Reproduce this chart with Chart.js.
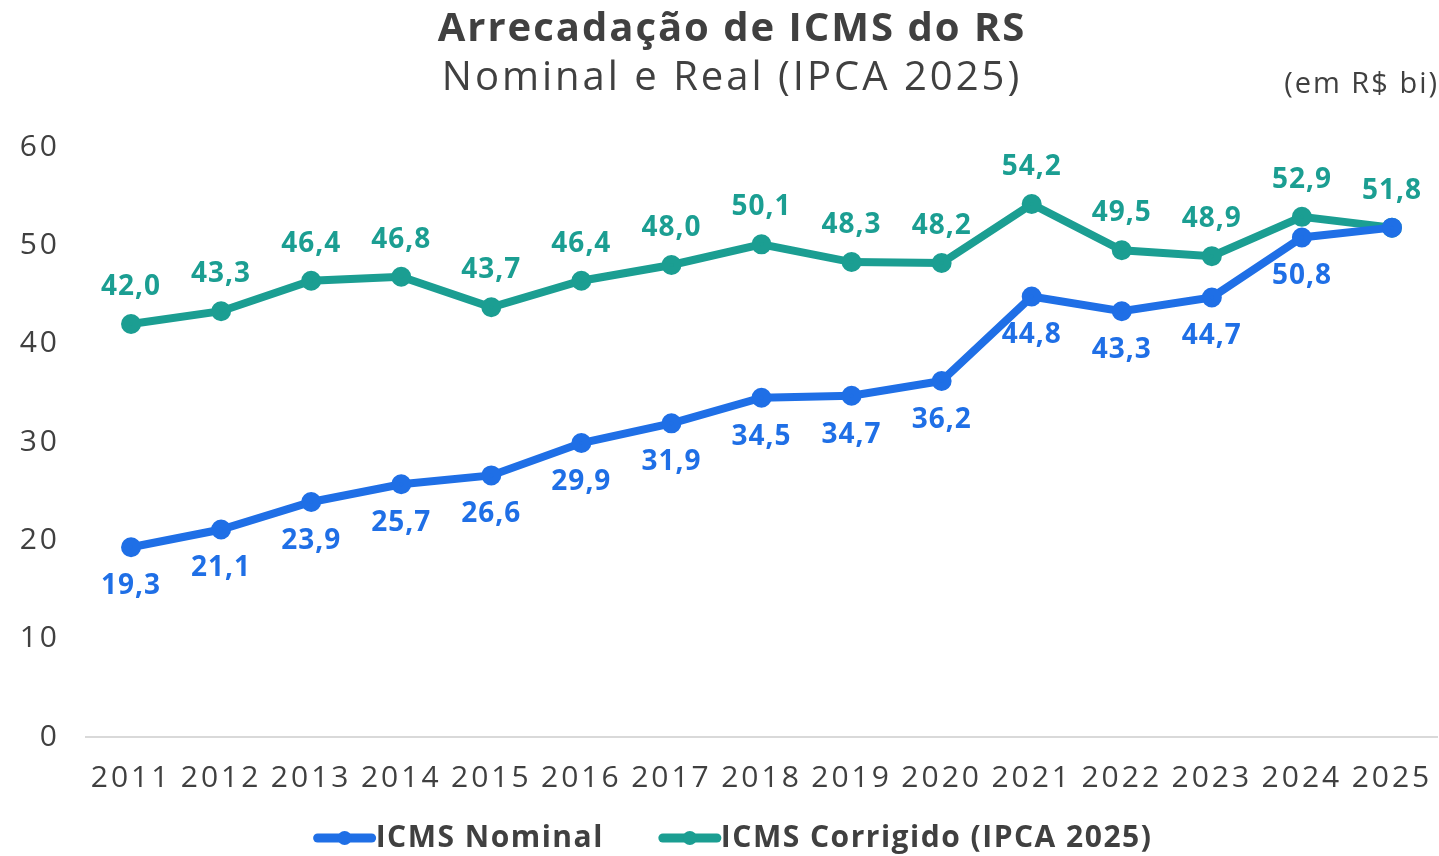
<!DOCTYPE html>
<html>
<head>
<meta charset="utf-8">
<script src="https://cdn.jsdelivr.net/npm/chart.js@4.4.1/dist/chart.umd.min.js"></script>
<style>
  html, body { margin: 0; padding: 0; background: #fff; overflow: hidden; }
  #wrap { width: 1439px; height: 856px; position: relative; }
</style>
</head>
<body>
<div id="wrap"><canvas id="grafico"></canvas></div>
<script>
// dados
const anos = ['2011', '2012', '2013', '2014', '2015', '2016', '2017', '2018', '2019', '2020', '2021', '2022', '2023', '2024', '2025'];
const icmsNominal = [19.3, 21.1, 23.9, 25.7, 26.6, 29.9, 31.9, 34.5, 34.7, 36.2, 44.8, 43.3, 44.7, 50.8, 51.8];
const icmsCorrigido = [42.0, 43.3, 46.4, 46.8, 43.7, 46.4, 48.0, 50.1, 48.3, 48.2, 54.2, 49.5, 48.9, 52.9, 51.8];
const yTicks = [0, 10, 20, 30, 40, 50, 60];

const AZUL = '#1f6fe6';
const VERDE = '#1b9e92';
const CINZA = '#404040';
const FONTE = "'Open Sans', 'DejaVu Sans', sans-serif";

// a fonte original é mais larga, então espaçamos um pouco as letras
const espacamento = {
  id: 'espacamento',
  beforeDraw(chart) { chart.ctx.letterSpacing = '3px'; }
};

// títulos, legenda e rótulos de dados
const textos = {
  id: 'textos',
  afterDatasetsDraw(chart) {
    const ctx = chart.ctx;
    ctx.save();
    ctx.letterSpacing = '1px';
    ctx.textAlign = 'center';
    ctx.textBaseline = 'middle';
    chart.data.datasets.forEach((ds, i) => {
      const meta = chart.getDatasetMeta(i);
      ctx.fillStyle = ds.borderColor;
      ctx.font = "bold 28px " + FONTE;
      meta.data.forEach((pt, j) => {
        if (i === 0 && j === ds.data.length - 1) return; // sobreposto no original
        const txt = ds.data[j].toFixed(1).replace('.', ',');
        const dy = i === 0 ? 39 : -37;
        ctx.fillText(txt, pt.x, pt.y + dy);
      });
    });
    ctx.restore();
  },
  afterDraw(chart) {
    const ctx = chart.ctx;
    ctx.save();
    ctx.fillStyle = CINZA;
    ctx.textBaseline = 'middle';
    ctx.textAlign = 'center';
    ctx.letterSpacing = '2px';
    ctx.font = "bold 40px " + FONTE;
    ctx.fillText('Arrecadação de ICMS do RS', 732, 30);
    ctx.letterSpacing = '3px';
    ctx.font = "40px " + FONTE;
    ctx.fillText('Nominal e Real (IPCA 2025)', 732, 79);
    ctx.textAlign = 'right';
    ctx.letterSpacing = '2px';
    ctx.font = "29px " + FONTE;
    ctx.fillText('(em R$ bi)', 1439, 85);

    // legenda
    ctx.letterSpacing = '1.5px';
    ctx.font = "bold 30px " + FONTE;
    ctx.textAlign = 'left';
    const ds = chart.data.datasets;
    const larg = ds.map(d => ctx.measureText(d.label).width);
    const gap = 55, mk = 62;
    let x = 733 - (mk * 2 + larg[0] + larg[1] + gap) / 2;
    const y = 838;
    ds.forEach((d, i) => {
      ctx.strokeStyle = d.borderColor;
      ctx.fillStyle = d.borderColor;
      ctx.lineWidth = 9;
      ctx.lineCap = 'round';
      ctx.beginPath(); ctx.moveTo(x + 4, y); ctx.lineTo(x + mk - 4, y); ctx.stroke();
      ctx.beginPath(); ctx.arc(x + mk / 2, y, 7, 0, Math.PI * 2); ctx.fill();
      ctx.fillStyle = CINZA;
      ctx.fillText(d.label, x + mk, y);
      x += mk + larg[i] + gap;
    });
    ctx.restore();
  }
};

new Chart(document.getElementById('grafico'), {
  type: 'line',
  data: {
    labels: anos,
    datasets: [
      {
        label: 'ICMS Nominal',
        data: icmsNominal,
        borderColor: AZUL,
        backgroundColor: AZUL,
        borderWidth: 8,
        pointRadius: 6,
        pointHoverRadius: 6,
        tension: 0
      },
      {
        label: 'ICMS Corrigido (IPCA 2025)',
        data: icmsCorrigido,
        borderColor: VERDE,
        backgroundColor: VERDE,
        borderWidth: 8,
        pointRadius: 6,
        pointHoverRadius: 6,
        tension: 0
      }
    ]
  },
  options: {
    responsive: true,
    maintainAspectRatio: false,
    animation: false,
    layout: { autoPadding: false, padding: { top: 147, right: 2, left: 0, bottom: 0 } },
    plugins: {
      title: { display: false },
      tooltip: { enabled: false },
      legend: { display: false }
    },
    scales: {
      x: {
        offset: true,
        grid: { display: false, drawTicks: false },
        border: { display: true, color: '#d9d9d9', width: 2 },
        afterFit(scale) {
          scale.height = 119;
          scale.paddingLeft = 0;
          scale.paddingRight = 0;
        },
        ticks: {
          color: CINZA,
          font: { family: FONTE, size: 30 },
          padding: 23,
          maxRotation: 0,
          autoSkip: false
        }
      },
      y: {
        min: 0,
        max: 60,
        grid: { display: false, drawTicks: false },
        border: { display: false },
        afterFit(scale) { scale.width = 86; },
        afterBuildTicks(scale) { scale.ticks = yTicks.map(v => ({ value: v })); },
        ticks: {
          color: CINZA,
          font: { family: FONTE, size: 30 },
          padding: 26
        }
      }
    }
  },
  plugins: [espacamento, textos]
});
</script>
</body>
</html>
